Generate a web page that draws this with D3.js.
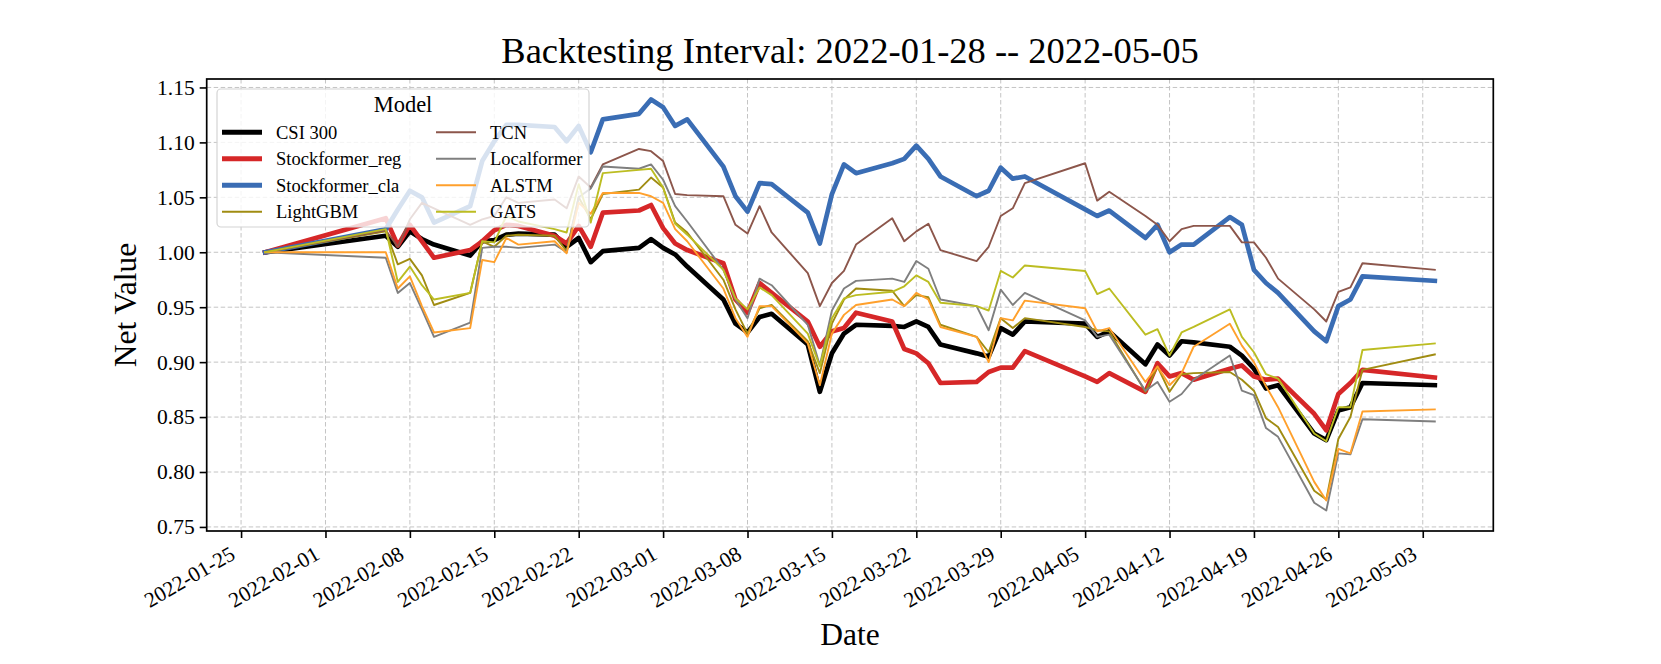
<!DOCTYPE html>
<html>
<head>
<meta charset="utf-8">
<script src="https://cdn.jsdelivr.net/npm/d3@7"></script>
<style>
	body { margin: 0; background: #fff; }
	svg { font-family: "Liberation Serif", "Times New Roman", serif; }
</style>
</head>
<body>
<svg id="chart" width="1661" height="664"></svg>
<script>
// trading days of the backtest (the source chart plots each close one calendar day early)
const tradingDays = [
	"2022-01-28",
	"2022-02-07", "2022-02-08", "2022-02-09", "2022-02-10", "2022-02-11",
	"2022-02-14", "2022-02-15", "2022-02-16", "2022-02-17", "2022-02-18",
	"2022-02-21", "2022-02-22", "2022-02-23", "2022-02-24", "2022-02-25",
	"2022-02-28", "2022-03-01", "2022-03-02", "2022-03-03", "2022-03-04",
	"2022-03-07", "2022-03-08", "2022-03-09", "2022-03-10", "2022-03-11",
	"2022-03-14", "2022-03-15", "2022-03-16", "2022-03-17", "2022-03-18",
	"2022-03-21", "2022-03-22", "2022-03-23", "2022-03-24", "2022-03-25",
	"2022-03-28", "2022-03-29", "2022-03-30", "2022-03-31", "2022-04-01",
	"2022-04-06", "2022-04-07", "2022-04-08",
	"2022-04-11", "2022-04-12", "2022-04-13", "2022-04-14", "2022-04-15",
	"2022-04-18", "2022-04-19", "2022-04-20", "2022-04-21", "2022-04-22",
	"2022-04-25", "2022-04-26", "2022-04-27", "2022-04-28", "2022-04-29",
	"2022-05-05"
]

const csi300 = [
	1.000, 1.015, 1.005, 1.019, 1.012, 1.007, 0.997, 1.010, 1.011, 1.016, 1.017, 1.016, 1.005, 1.013, 0.991, 1.001,
	1.004, 1.012, 1.004, 0.998, 0.987, 0.957, 0.935, 0.927, 0.941, 0.944, 0.916, 0.873, 0.908, 0.926, 0.934, 0.933,
	0.932, 0.937, 0.932, 0.916, 0.908, 0.905, 0.931, 0.925, 0.937, 0.935, 0.923, 0.928, 0.898, 0.916, 0.906, 0.919,
	0.918, 0.914, 0.906, 0.894, 0.876, 0.879, 0.835, 0.829, 0.856, 0.859, 0.881, 0.879
]
const stockformerReg = [
	1.000, 1.031, 1.006, 1.025, 1.010, 0.995, 1.002, 1.010, 1.020, 1.025, 1.024, 1.015, 1.008, 1.024, 1.005, 1.036,
	1.038, 1.043, 1.022, 1.008, 1.002, 0.990, 0.957, 0.945, 0.972, 0.963, 0.937, 0.914, 0.928, 0.931, 0.945, 0.937,
	0.912, 0.908, 0.899, 0.881, 0.882, 0.891, 0.895, 0.895, 0.910, 0.887, 0.882, 0.890, 0.873, 0.899, 0.887, 0.890,
	0.884, 0.894, 0.897, 0.887, 0.884, 0.885, 0.853, 0.838, 0.871, 0.881, 0.893, 0.886
]
const stockformerCla = [
	1.000, 1.021, 1.039, 1.056, 1.050, 1.027, 1.042, 1.083, 1.101, 1.116, 1.116, 1.114, 1.101, 1.115, 1.091, 1.121,
	1.126, 1.139, 1.132, 1.115, 1.121, 1.078, 1.051, 1.037, 1.063, 1.062, 1.036, 1.008, 1.053, 1.080, 1.072, 1.081,
	1.085, 1.097, 1.085, 1.069, 1.051, 1.056, 1.077, 1.067, 1.069, 1.039, 1.033, 1.038, 1.013, 1.025, 1.000, 1.007,
	1.007, 1.032, 1.025, 0.984, 0.972, 0.963, 0.928, 0.919, 0.951, 0.957, 0.978, 0.974
]
const lightGBM = [
	1.000, 1.019, 0.989, 0.994, 0.979, 0.952, 0.963, 1.010, 1.005, 1.015, 1.016, 1.015, 1.001, 1.050, 1.030, 1.053,
	1.057, 1.068, 1.059, 1.027, 1.018, 0.975, 0.948, 0.926, 0.949, 0.952, 0.919, 0.890, 0.935, 0.957, 0.967, 0.965,
	0.951, 0.961, 0.959, 0.934, 0.923, 0.909, 0.940, 0.931, 0.940, 0.932, 0.929, 0.928, 0.873, 0.896, 0.873, 0.889,
	0.890, 0.891, 0.884, 0.874, 0.849, 0.841, 0.783, 0.775, 0.830, 0.850, 0.893, 0.907
]
const tcn = [
	1.000, 1.020, 1.005, 1.030, 1.045, 1.040, 1.025, 1.030, 1.033, 1.050, 1.045, 1.048, 1.040, 1.069, 1.059, 1.080,
	1.094, 1.092, 1.083, 1.053, 1.052, 1.051, 1.025, 1.017, 1.042, 1.018, 0.981, 0.951, 0.972, 0.983, 1.007, 1.031,
	1.010, 1.019, 1.026, 1.002, 0.992, 1.005, 1.033, 1.040, 1.063, 1.081, 1.047, 1.055, 1.033, 1.025, 1.010, 1.021,
	1.024, 1.024, 1.009, 1.009, 0.995, 0.976, 0.948, 0.937, 0.964, 0.968, 0.990, 0.984
]
const localformer = [
	1.000, 0.995, 0.963, 0.972, 0.948, 0.923, 0.936, 1.004, 1.005, 1.005, 1.004, 1.007, 1.000, 1.050, 1.058, 1.078,
	1.076, 1.080, 1.066, 1.042, 1.028, 0.984, 0.957, 0.940, 0.976, 0.970, 0.934, 0.897, 0.947, 0.967, 0.974, 0.976,
	0.973, 0.992, 0.985, 0.957, 0.951, 0.929, 0.966, 0.952, 0.963, 0.938, 0.923, 0.925, 0.874, 0.882, 0.864, 0.871,
	0.884, 0.906, 0.874, 0.870, 0.840, 0.832, 0.772, 0.765, 0.817, 0.816, 0.848, 0.846
]
const alstm = [
	1.000, 1.000, 0.967, 0.978, 0.951, 0.927, 0.931, 0.993, 0.991, 1.013, 1.007, 1.010, 0.999, 1.045, 1.035, 1.054,
	1.054, 1.051, 1.045, 1.021, 1.010, 0.967, 0.940, 0.923, 0.951, 0.951, 0.917, 0.879, 0.926, 0.943, 0.952, 0.957,
	0.951, 0.963, 0.957, 0.932, 0.923, 0.900, 0.940, 0.938, 0.956, 0.949, 0.928, 0.931, 0.882, 0.896, 0.879, 0.890,
	0.914, 0.935, 0.915, 0.900, 0.878, 0.859, 0.791, 0.774, 0.821, 0.817, 0.855, 0.857
]
const gats = [
	1.000, 1.021, 0.973, 0.987, 0.970, 0.957, 0.963, 1.010, 1.009, 1.033, 1.028, 1.021, 1.018, 1.062, 1.027, 1.072,
	1.075, 1.076, 1.059, 1.026, 1.016, 0.984, 0.958, 0.948, 0.968, 0.961, 0.926, 0.896, 0.940, 0.958, 0.961, 0.964,
	0.969, 0.979, 0.973, 0.954, 0.951, 0.947, 0.983, 0.977, 0.988, 0.983, 0.962, 0.967, 0.925, 0.930, 0.906, 0.927,
	0.932, 0.948, 0.923, 0.909, 0.889, 0.885, 0.835, 0.828, 0.859, 0.859, 0.911, 0.917
]

const models = ["CSI 300", "Stockformer_reg", "Stockformer_cla", "LightGBM", "TCN", "Localformer", "ALSTM", "GATS"]
const modelValues = [csi300, stockformerReg, stockformerCla, lightGBM, tcn, localformer, alstm, gats]
const modelColours = ["#000000", "#d62728", "#3a6db4", "#a08c12", "#8c564b", "#7f7f7f", "#ffa02c", "#bcbd22"]
const modelWidths = [4.7, 4.7, 4.7, 1.9, 1.9, 1.9, 1.9, 1.9]

const xTickLabels = [
	"2022-01-25", "2022-02-01", "2022-02-08", "2022-02-15", "2022-02-22",
	"2022-03-01", "2022-03-08", "2022-03-15", "2022-03-22", "2022-03-29",
	"2022-04-05", "2022-04-12", "2022-04-19", "2022-04-26", "2022-05-03"
]
const yTickValues = [0.75, 0.80, 0.85, 0.90, 0.95, 1.00, 1.05, 1.10, 1.15]

const parseDate = d3.utcParse("%Y-%m-%d")
const plotDates = tradingDays.map(s => d3.utcDay.offset(parseDate(s), -1))

const margin = { left: 206.7, right: 1493.3, top: 79, bottom: 531 }
const svg = d3.select("#chart")

// matplotlib-style 5% padding on both axes
const pad = (lo, hi) => [lo - (hi - lo) * 0.05, hi + (hi - lo) * 0.05]
const xExt = d3.extent(plotDates)
const xDom = pad(+xExt[0], +xExt[1]).map(t => new Date(t))
const allValues = modelValues.flat()
const yDom = pad(d3.min(allValues), d3.max(allValues))

const x = d3.scaleUtc().domain(xDom).range([margin.left, margin.right])
const y = d3.scaleLinear().domain(yDom).range([margin.bottom, margin.top])

const xTicks = xTickLabels.map(parseDate)

/**
 * Grid lines, dashed and light, below the data
 */
const grid = svg.append("g").attr("class", "grid")
grid.selectAll(".vgrid")
	.data(xTicks)
	.enter()
	.append("line")
	.attr("x1", d => x(d)).attr("x2", d => x(d))
	.attr("y1", margin.top).attr("y2", margin.bottom)
grid.selectAll(".hgrid")
	.data(yTickValues)
	.enter()
	.append("line")
	.attr("x1", margin.left).attr("x2", margin.right)
	.attr("y1", d => y(d)).attr("y2", d => y(d))
grid.selectAll("line")
	.attr("stroke", "#c4c4c4")
	.attr("stroke-width", 1)
	.attr("stroke-dasharray", "4.5,2.5")

/**
 * One line per model, drawn in legend order
 */
const line = d3.line()
	.x((d, i) => x(plotDates[i]))
	.y(d => y(d))

svg.append("g")
	.selectAll("path")
	.data(modelValues)
	.enter()
	.append("path")
	.attr("d", d => line(d))
	.attr("fill", "none")
	.attr("stroke", (d, i) => modelColours[i])
	.attr("stroke-width", (d, i) => modelWidths[i])
	.attr("stroke-linejoin", "round")
	.attr("stroke-linecap", "square")

/**
 * Axes
 */
const xAxis = svg.append("g")
	.attr("transform", `translate(0,${margin.bottom})`)
	.call(d3.axisBottom(x).tickValues(xTicks).tickSize(7).tickFormat(d3.utcFormat("%Y-%m-%d")))
xAxis.select(".domain").remove()
xAxis.selectAll(".tick line").attr("stroke-width", 1.6)
xAxis.selectAll(".tick text")
	.attr("font-size", 21.5)
	.attr("font-family", "Liberation Serif")
	.attr("fill", "#000")
	.attr("text-anchor", "end")
	.attr("y", 0)
	.attr("dy", 0)
	.attr("transform", "translate(-5,27) rotate(-30)")

const yAxis = svg.append("g")
	.attr("transform", `translate(${margin.left},0)`)
	.call(d3.axisLeft(y).tickValues(yTickValues).tickSize(7).tickFormat(d3.format(".2f")))
yAxis.select(".domain").remove()
yAxis.selectAll(".tick line").attr("stroke-width", 1.6)
yAxis.selectAll(".tick text")
	.attr("font-size", 21.5)
	.attr("font-family", "Liberation Serif")
	.attr("fill", "#000")
	.attr("x", -12)

svg.append("rect")
	.attr("x", margin.left).attr("y", margin.top)
	.attr("width", margin.right - margin.left)
	.attr("height", margin.bottom - margin.top)
	.attr("fill", "none")
	.attr("stroke", "#000")
	.attr("stroke-width", 1.7)

/**
 * Legend, two columns, semi-transparent box over the lines
 */
const legend = svg.append("g").attr("class", "legend")
legend.append("rect")
	.attr("x", 217).attr("y", 89)
	.attr("width", 372).attr("height", 138)
	.attr("rx", 4)
	.attr("fill", "#fff").attr("fill-opacity", 0.8)
	.attr("stroke", "#d4d4d4").attr("stroke-width", 1.2)
legend.append("text")
	.attr("x", 403).attr("y", 112)
	.attr("text-anchor", "middle")
	.attr("font-size", 22.5)
	.text("Model")

const entry = legend.selectAll(".entry")
	.data(models)
	.enter()
	.append("g")
	.attr("class", "entry")
	.attr("transform", (d, i) => `translate(${i < 4 ? 222 : 436},${132.3 + (i % 4) * 26.5})`)
entry.append("line")
	.attr("x1", 0).attr("x2", 40)
	.attr("stroke", (d, i) => modelColours[i])
	.attr("stroke-width", (d, i) => modelWidths[i] + 0.2)
entry.append("text")
	.attr("x", 54)
	.attr("dy", "0.35em")
	.attr("font-size", 18.5)
	.text(d => d)

/**
 * Titles
 */
svg.append("text")
	.attr("x", (margin.left + margin.right) / 2).attr("y", 63)
	.attr("text-anchor", "middle")
	.attr("font-size", 36.5)
	.text("Backtesting Interval: 2022-01-28 -- 2022-05-05")
svg.append("text")
	.attr("x", (margin.left + margin.right) / 2).attr("y", 645)
	.attr("text-anchor", "middle")
	.attr("font-size", 31.5)
	.text("Date")
svg.append("text")
	.attr("transform", `translate(136,${(margin.top + margin.bottom) / 2}) rotate(-90)`)
	.attr("text-anchor", "middle")
	.attr("font-size", 31.5)
	.text("Net Value")
</script>
</body>
</html>
